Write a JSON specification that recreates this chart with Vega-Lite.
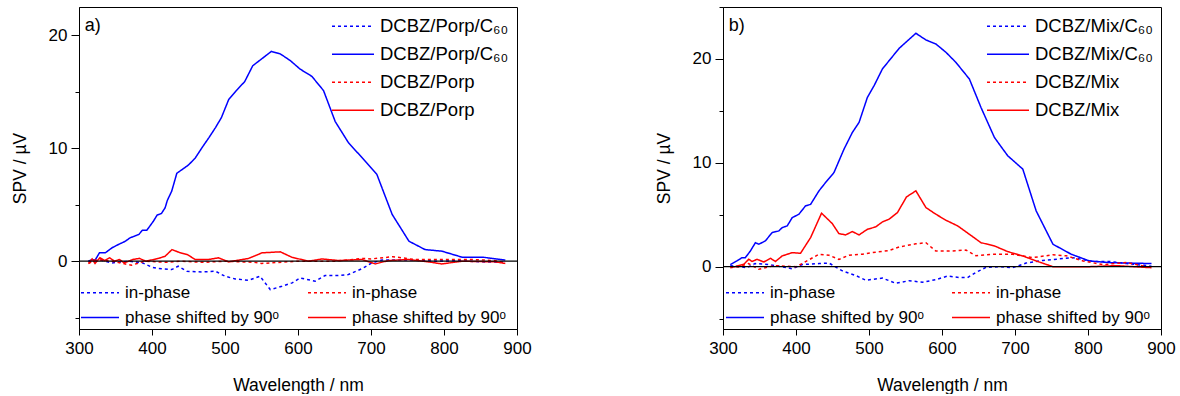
{
  "$schema": "https://vega.github.io/schema/vega-lite/v6.json",
  "padding": {"left": 10, "top": 6, "right": 0, "bottom": 0},
  "bounds": "flush",
  "spacing": 206,
  "config": {
    "font": "Liberation Sans",
    "view": {"stroke": "black", "strokeWidth": 1},
    "axis": {"domainColor": "black", "tickColor": "black", "labelColor": "black", "titleColor": "black", "labelFont": "Liberation Sans", "titleFont": "Liberation Sans", "titleFontSize": 17.5, "titleFontWeight": "normal", "grid": false, "domainWidth": 1, "tickWidth": 1},
    "legend": {"labelFont": "Liberation Sans", "labelColor": "black", "symbolStrokeWidth": 1.5, "symbolType": "stroke", "labelOffset": 5, "orient": "none", "labelLimit": 400, "padding": 0}
  },
  "hconcat": [
    {
      "width": 438,
      "height": 322,
      "data": {"values": [
        {"s":"C60-90","x":313,"y":0},{"s":"C60-90","x":317.8,"y":0.15},{"s":"C60-90","x":322,"y":0.09},{"s":"C60-90","x":328,"y":0.74},{"s":"C60-90","x":336,"y":0.74},{"s":"C60-90","x":345,"y":1.18},{"s":"C60-90","x":354,"y":1.48},{"s":"C60-90","x":363.5,"y":1.77},{"s":"C60-90","x":370,"y":2.07},{"s":"C60-90","x":382,"y":2.37},{"s":"C60-90","x":387,"y":2.75},{"s":"C60-90","x":393,"y":2.75},{"s":"C60-90","x":402,"y":3.55},{"s":"C60-90","x":407,"y":4.08},{"s":"C60-90","x":413,"y":4.23},{"s":"C60-90","x":418,"y":4.73},{"s":"C60-90","x":421,"y":5.38},{"s":"C60-90","x":427,"y":6.2},{"s":"C60-90","x":434,"y":7.78},{"s":"C60-90","x":450,"y":8.52},{"s":"C60-90","x":459,"y":9.11},{"s":"C60-90","x":468.5,"y":10.05},{"s":"C60-90","x":478,"y":10.94},{"s":"C60-90","x":487,"y":11.83},{"s":"C60-90","x":495,"y":12.7},{"s":"C60-90","x":505,"y":14.3},{"s":"C60-90","x":515.5,"y":15.1},{"s":"C60-90","x":527,"y":15.9},{"s":"C60-90","x":538,"y":17.3},{"s":"C60-90","x":563.5,"y":18.57},{"s":"C60-90","x":576,"y":18.34},{"s":"C60-90","x":589.5,"y":17.75},{"s":"C60-90","x":603,"y":17.0},{"s":"C60-90","x":619,"y":16.36},{"s":"C60-90","x":635,"y":15.1},{"s":"C60-90","x":651,"y":12.36},{"s":"C60-90","x":669,"y":10.5},{"s":"C60-90","x":690,"y":9.0},{"s":"C60-90","x":708,"y":7.69},{"s":"C60-90","x":722,"y":5.32},{"s":"C60-90","x":729,"y":4.14},{"s":"C60-90","x":752,"y":1.77},{"s":"C60-90","x":774,"y":1.03},{"s":"C60-90","x":797,"y":0.89},{"s":"C60-90","x":825,"y":0.35},{"s":"C60-90","x":854,"y":0.35},{"s":"C60-90","x":884,"y":0.1},
        {"s":"C60-in","x":313,"y":0},{"s":"C60-in","x":330,"y":0.1},{"s":"C60-in","x":345,"y":-0.15},{"s":"C60-in","x":368,"y":0},{"s":"C60-in","x":387,"y":-0.15},{"s":"C60-in","x":400,"y":-0.53},{"s":"C60-in","x":409,"y":-0.65},{"s":"C60-in","x":427,"y":-0.74},{"s":"C60-in","x":436,"y":-0.44},{"s":"C60-in","x":448,"y":-0.89},{"s":"C60-in","x":468.5,"y":-0.95},{"s":"C60-in","x":487,"y":-0.89},{"s":"C60-in","x":500,"y":-1.33},{"s":"C60-in","x":514,"y":-1.57},{"s":"C60-in","x":532.5,"y":-1.69},{"s":"C60-in","x":548,"y":-1.33},{"s":"C60-in","x":562,"y":-2.51},{"s":"C60-in","x":578,"y":-2.22},{"s":"C60-in","x":592,"y":-1.92},{"s":"C60-in","x":603,"y":-1.48},{"s":"C60-in","x":623.5,"y":-1.77},{"s":"C60-in","x":637,"y":-1.27},{"s":"C60-in","x":655,"y":-1.27},{"s":"C60-in","x":669,"y":-1.18},{"s":"C60-in","x":688,"y":-0.65},{"s":"C60-in","x":701,"y":-0.15},{"s":"C60-in","x":715,"y":0.1},{"s":"C60-in","x":733,"y":0.1},{"s":"C60-in","x":756,"y":0.1},{"s":"C60-in","x":790,"y":0},{"s":"C60-in","x":820,"y":0.05},{"s":"C60-in","x":850,"y":-0.05},{"s":"C60-in","x":884,"y":-0.1},
        {"s":"ref-90","x":313,"y":-0.2},{"s":"ref-90","x":318,"y":0.2},{"s":"ref-90","x":322,"y":-0.2},{"s":"ref-90","x":328.6,"y":0.3},{"s":"ref-90","x":335,"y":0.06},{"s":"ref-90","x":342,"y":0.3},{"s":"ref-90","x":348.6,"y":0},{"s":"ref-90","x":355.4,"y":0.15},{"s":"ref-90","x":362,"y":-0.15},{"s":"ref-90","x":373.6,"y":0.15},{"s":"ref-90","x":382.6,"y":0.25},{"s":"ref-90","x":391.7,"y":0},{"s":"ref-90","x":409,"y":0.25},{"s":"ref-90","x":418,"y":0.44},{"s":"ref-90","x":427.4,"y":1.03},{"s":"ref-90","x":438.8,"y":0.74},{"s":"ref-90","x":448,"y":0.6},{"s":"ref-90","x":459.3,"y":0.15},{"s":"ref-90","x":477.5,"y":0.15},{"s":"ref-90","x":491.2,"y":0.3},{"s":"ref-90","x":504.9,"y":-0.06},{"s":"ref-90","x":532.5,"y":0.25},{"s":"ref-90","x":550.7,"y":0.74},{"s":"ref-90","x":575.8,"y":0.83},{"s":"ref-90","x":591.6,"y":0.35},{"s":"ref-90","x":614.5,"y":0},{"s":"ref-90","x":632.8,"y":0.2},{"s":"ref-90","x":655.6,"y":0.06},{"s":"ref-90","x":687.6,"y":0.15},{"s":"ref-90","x":705.9,"y":-0.24},{"s":"ref-90","x":724,"y":0.06},{"s":"ref-90","x":751.6,"y":0.15},{"s":"ref-90","x":779,"y":-0.06},{"s":"ref-90","x":797,"y":-0.24},{"s":"ref-90","x":824.7,"y":0},{"s":"ref-90","x":870.4,"y":-0.06},{"s":"ref-90","x":884,"y":-0.2},
        {"s":"ref-in","x":313,"y":-0.2},{"s":"ref-in","x":322,"y":0.1},{"s":"ref-in","x":330,"y":0.1},{"s":"ref-in","x":345,"y":0},{"s":"ref-in","x":360,"y":-0.2},{"s":"ref-in","x":372,"y":-0.35},{"s":"ref-in","x":390,"y":0},{"s":"ref-in","x":420,"y":-0.1},{"s":"ref-in","x":440,"y":0},{"s":"ref-in","x":470,"y":-0.1},{"s":"ref-in","x":500,"y":0},{"s":"ref-in","x":540,"y":-0.1},{"s":"ref-in","x":550,"y":-0.2},{"s":"ref-in","x":600,"y":0},{"s":"ref-in","x":650,"y":0},{"s":"ref-in","x":690,"y":0.25},{"s":"ref-in","x":700,"y":0.2},{"s":"ref-in","x":730,"y":0.4},{"s":"ref-in","x":760,"y":0.15},{"s":"ref-in","x":800,"y":0.15},{"s":"ref-in","x":840,"y":0.15},{"s":"ref-in","x":870,"y":0.05},{"s":"ref-in","x":884,"y":-0.15}
      ]},
      "layer": [
        {
          "mark": {"type": "line", "strokeWidth": 1.5},
          "encoding": {
            "x": {"field": "x", "type": "quantitative", "title": "Wavelength / nm", "scale": {"domain": [300, 900], "nice": false, "zero": false},
              "axis": {"values": [300,350,400,450,500,550,600,650,700,750,800,850,900], "labelExpr": "datum.value % 100 === 0 ? datum.label : ''", "labelFontSize": {"condition": {"test": "datum.value % 100 === 0", "value": 17}, "value": 0}, "labelPadding": 5, "labelFlush": false, "labelOverlap": false, "tickSize": {"condition": {"test": "datum.value % 100 === 0", "value": 6}, "value": 3}, "titlePadding": 20}},
            "y": {"field": "y", "type": "quantitative", "title": "SPV / µV", "scale": {"domain": [-6, 22.5], "nice": false, "zero": false},
              "axis": {"values": [-5,0,5,10,15,20], "labelExpr": "datum.value % 10 === 0 ? datum.label : ''", "labelFontSize": {"condition": {"test": "datum.value % 10 === 0", "value": 17}, "value": 0}, "labelPadding": 4, "labelOverlap": false, "tickSize": {"condition": {"test": "datum.value % 10 === 0", "value": 8}, "value": 4}, "titlePadding": 19}},
            "color": {"field": "s", "type": "nominal", "scale": {"domain": ["C60-in","C60-90","ref-in","ref-90"], "range": ["#0000ff","#0000ff","#ff0000","#ff0000"]},
              "legend": {"title": null, "legendX": 252, "legendY": 6.5, "symbolSize": 1764, "clipHeight": 25.3, "rowPadding": 2, "labelFontSize": 18.5, "labelExpr": "datum.value === 'C60-in' || datum.value === 'C60-90' ? 'DCBZ/Porp/C₆₀' : 'DCBZ/Porp'"}},
            "strokeDash": {"field": "s", "type": "nominal", "scale": {"domain": ["C60-in","C60-90","ref-in","ref-90"], "range": [[3,3],[1,0],[3,3],[1,0]]},
              "legend": {"title": null, "legendX": 252, "legendY": 6.5, "symbolSize": 1764, "clipHeight": 25.3, "rowPadding": 2, "labelFontSize": 18.5, "labelExpr": "datum.value === 'C60-in' || datum.value === 'C60-90' ? 'DCBZ/Porp/C₆₀' : 'DCBZ/Porp'"}}
          }
        },
        {
          "mark": {"type": "line", "strokeWidth": 1.5, "opacity": 0},
          "encoding": {
            "x": {"field": "x", "type": "quantitative", "title": "Wavelength / nm"},
            "y": {"field": "y", "type": "quantitative", "title": "SPV / µV"},
            "color": {"field": "s", "type": "nominal", "scale": {"domain": ["C60-in","C60-90","ref-in","ref-90"], "range": ["#0000ff","#0000ff","#ff0000","#ff0000"]},
              "legend": {"title": null, "legendX": 1, "legendY": 274.2, "columns": 2, "columnPadding": 28, "clipHeight": 22.8, "rowPadding": 2, "symbolSize": 1444, "symbolOpacity": 1, "labelFontSize": 17, "labelExpr": "indexof(datum.value, '-in') >= 0 ? 'in-phase' : 'phase shifted by 90ᵒ'"}},
            "strokeDash": {"field": "s", "type": "nominal", "scale": {"domain": ["C60-in","C60-90","ref-in","ref-90"], "range": [[3,3],[1,0],[3,3],[1,0]]},
              "legend": {"title": null, "legendX": 1, "legendY": 274.2, "columns": 2, "columnPadding": 28, "clipHeight": 22.8, "rowPadding": 2, "symbolSize": 1444, "symbolOpacity": 1, "labelFontSize": 17, "labelExpr": "indexof(datum.value, '-in') >= 0 ? 'in-phase' : 'phase shifted by 90ᵒ'"}}
          }
        },
        {
          "data": {"values": [{}]},
          "mark": {"type": "rule", "color": "black", "strokeWidth": 1.3},
          "encoding": {"y": {"datum": 0, "type": "quantitative", "title": "SPV / µV"}}
        },
        {
          "data": {"values": [{"t": "a)"}]},
          "mark": {"type": "text", "align": "left", "baseline": "middle", "fontSize": 18, "font": "Liberation Sans", "color": "black"},
          "encoding": {"x": {"datum": 307.8, "type": "quantitative", "title": "Wavelength / nm"}, "y": {"datum": 20.85, "type": "quantitative", "title": "SPV / µV"}, "text": {"field": "t"}}
        }
      ],
      "resolve": {"scale": {"color": "independent", "strokeDash": "independent"}}
    },
    {
      "width": 438,
      "height": 322,
      "data": {"values": [
        {"s":"C60-90","x":310,"y":0.2},{"s":"C60-90","x":312.4,"y":0.29},{"s":"C60-90","x":319,"y":0.55},{"s":"C60-90","x":326,"y":0.87},{"s":"C60-90","x":330.6,"y":0.87},{"s":"C60-90","x":337.5,"y":1.51},{"s":"C60-90","x":344.4,"y":2.31},{"s":"C60-90","x":349,"y":2.16},{"s":"C60-90","x":358,"y":2.48},{"s":"C60-90","x":367.3,"y":3.28},{"s":"C60-90","x":376.5,"y":3.44},{"s":"C60-90","x":381,"y":3.76},{"s":"C60-90","x":388,"y":3.93},{"s":"C60-90","x":394.8,"y":4.72},{"s":"C60-90","x":404,"y":5.05},{"s":"C60-90","x":413,"y":5.85},{"s":"C60-90","x":420,"y":6.0},{"s":"C60-90","x":431.5,"y":7.3},{"s":"C60-90","x":440.5,"y":8.1},{"s":"C60-90","x":452,"y":9.06},{"s":"C60-90","x":465.8,"y":11.32},{"s":"C60-90","x":477.2,"y":12.92},{"s":"C60-90","x":486.4,"y":13.89},{"s":"C60-90","x":497.8,"y":16.3},{"s":"C60-90","x":507,"y":17.43},{"s":"C60-90","x":518.4,"y":19.04},{"s":"C60-90","x":541.3,"y":21.02},{"s":"C60-90","x":564.2,"y":22.47},{"s":"C60-90","x":578,"y":21.83},{"s":"C60-90","x":591.6,"y":21.44},{"s":"C60-90","x":605.4,"y":20.64},{"s":"C60-90","x":619,"y":19.67},{"s":"C60-90","x":637.5,"y":18.07},{"s":"C60-90","x":653.4,"y":15.33},{"s":"C60-90","x":671.8,"y":12.44},{"s":"C60-90","x":690,"y":10.68},{"s":"C60-90","x":710.7,"y":9.39},{"s":"C60-90","x":729,"y":5.37},{"s":"C60-90","x":752,"y":2.16},{"s":"C60-90","x":777,"y":1.2},{"s":"C60-90","x":802,"y":0.55},{"s":"C60-90","x":830,"y":0.39},{"s":"C60-90","x":887,"y":0.3},
        {"s":"C60-in","x":310,"y":0.1},{"s":"C60-in","x":322,"y":0},{"s":"C60-in","x":332.6,"y":-0.1},{"s":"C60-in","x":344,"y":0.3},{"s":"C60-in","x":362.7,"y":0.2},{"s":"C60-in","x":380,"y":0},{"s":"C60-in","x":394.8,"y":-0.2},{"s":"C60-in","x":408.5,"y":0.2},{"s":"C60-in","x":431.5,"y":0.3},{"s":"C60-in","x":445.2,"y":0.35},{"s":"C60-in","x":463.5,"y":-0.4},{"s":"C60-in","x":481.8,"y":-0.85},{"s":"C60-in","x":495.5,"y":-1.3},{"s":"C60-in","x":518.4,"y":-1.1},{"s":"C60-in","x":536.7,"y":-1.6},{"s":"C60-in","x":555,"y":-1.35},{"s":"C60-in","x":573.3,"y":-1.5},{"s":"C60-in","x":591.6,"y":-1.25},{"s":"C60-in","x":607.6,"y":-0.9},{"s":"C60-in","x":623.5,"y":-1.05},{"s":"C60-in","x":635,"y":-1.05},{"s":"C60-in","x":646.5,"y":-0.55},{"s":"C60-in","x":660.3,"y":-0.07},{"s":"C60-in","x":678.6,"y":0},{"s":"C60-in","x":696.9,"y":-0.1},{"s":"C60-in","x":715.2,"y":0.35},{"s":"C60-in","x":738,"y":0.6},{"s":"C60-in","x":761,"y":0.75},{"s":"C60-in","x":779.3,"y":0.87},{"s":"C60-in","x":806.8,"y":0.5},{"s":"C60-in","x":829.8,"y":0.5},{"s":"C60-in","x":852.7,"y":0.3},{"s":"C60-in","x":887,"y":0.05},
        {"s":"ref-90","x":310,"y":0},{"s":"ref-90","x":316.5,"y":0},{"s":"ref-90","x":328.4,"y":0.23},{"s":"ref-90","x":335.3,"y":0.71},{"s":"ref-90","x":339.8,"y":0.5},{"s":"ref-90","x":346.7,"y":0.71},{"s":"ref-90","x":355.9,"y":0.45},{"s":"ref-90","x":365,"y":0.81},{"s":"ref-90","x":371.8,"y":0.5},{"s":"ref-90","x":381,"y":1.03},{"s":"ref-90","x":394.8,"y":1.35},{"s":"ref-90","x":406.2,"y":1.29},{"s":"ref-90","x":420,"y":2.8},{"s":"ref-90","x":435,"y":5.15},{"s":"ref-90","x":449.7,"y":4.15},{"s":"ref-90","x":458.8,"y":3.18},{"s":"ref-90","x":468,"y":3.06},{"s":"ref-90","x":477.2,"y":3.38},{"s":"ref-90","x":486.4,"y":3.06},{"s":"ref-90","x":497.8,"y":3.6},{"s":"ref-90","x":509.2,"y":3.83},{"s":"ref-90","x":518.4,"y":4.31},{"s":"ref-90","x":527.5,"y":4.57},{"s":"ref-90","x":539,"y":5.21},{"s":"ref-90","x":551.4,"y":6.72},{"s":"ref-90","x":564.2,"y":7.3},{"s":"ref-90","x":578,"y":5.69},{"s":"ref-90","x":591.6,"y":5.05},{"s":"ref-90","x":605.4,"y":4.47},{"s":"ref-90","x":621.4,"y":3.93},{"s":"ref-90","x":637.5,"y":3.12},{"s":"ref-90","x":653.4,"y":2.31},{"s":"ref-90","x":671.8,"y":2.0},{"s":"ref-90","x":690,"y":1.45},{"s":"ref-90","x":710.7,"y":1.03},{"s":"ref-90","x":729,"y":0.55},{"s":"ref-90","x":752,"y":0},{"s":"ref-90","x":802,"y":0},{"s":"ref-90","x":839,"y":0.1},{"s":"ref-90","x":887,"y":-0.1},
        {"s":"ref-in","x":310,"y":-0.1},{"s":"ref-in","x":321,"y":0},{"s":"ref-in","x":335,"y":0.3},{"s":"ref-in","x":349,"y":-0.25},{"s":"ref-in","x":370,"y":0.1},{"s":"ref-in","x":400,"y":0},{"s":"ref-in","x":408.5,"y":0.3},{"s":"ref-in","x":431.5,"y":1.2},{"s":"ref-in","x":445.2,"y":1.1},{"s":"ref-in","x":458.8,"y":0.7},{"s":"ref-in","x":472.6,"y":1.1},{"s":"ref-in","x":490.9,"y":1.2},{"s":"ref-in","x":509.2,"y":1.4},{"s":"ref-in","x":527.5,"y":1.55},{"s":"ref-in","x":541.3,"y":1.9},{"s":"ref-in","x":564.2,"y":2.2},{"s":"ref-in","x":578,"y":2.3},{"s":"ref-in","x":591.6,"y":1.5},{"s":"ref-in","x":610,"y":1.5},{"s":"ref-in","x":632.8,"y":1.6},{"s":"ref-in","x":646.5,"y":1.05},{"s":"ref-in","x":669.4,"y":1.2},{"s":"ref-in","x":696.9,"y":1.2},{"s":"ref-in","x":724.4,"y":0.87},{"s":"ref-in","x":752,"y":1.15},{"s":"ref-in","x":770.3,"y":1.05},{"s":"ref-in","x":793.2,"y":0.55},{"s":"ref-in","x":820.7,"y":0.2},{"s":"ref-in","x":852.7,"y":0.4},{"s":"ref-in","x":887,"y":-0.1}
      ]},
      "layer": [
        {
          "mark": {"type": "line", "strokeWidth": 1.5},
          "encoding": {
            "x": {"field": "x", "type": "quantitative", "title": "Wavelength / nm", "scale": {"domain": [300, 900], "nice": false, "zero": false},
              "axis": {"values": [300,350,400,450,500,550,600,650,700,750,800,850,900], "labelExpr": "datum.value % 100 === 0 ? datum.label : ''", "labelFontSize": {"condition": {"test": "datum.value % 100 === 0", "value": 17}, "value": 0}, "labelPadding": 5, "labelFlush": false, "labelOverlap": false, "tickSize": {"condition": {"test": "datum.value % 100 === 0", "value": 6}, "value": 3}, "titlePadding": 20}},
            "y": {"field": "y", "type": "quantitative", "title": "SPV / µV", "scale": {"domain": [-6, 25], "nice": false, "zero": false},
              "axis": {"values": [-5,0,5,10,15,20,25], "labelExpr": "datum.value % 10 === 0 ? datum.label : ''", "labelFontSize": {"condition": {"test": "datum.value % 10 === 0", "value": 17}, "value": 0}, "labelPadding": 4, "labelOverlap": false, "tickSize": {"condition": {"test": "datum.value % 10 === 0", "value": 8}, "value": 4}, "titlePadding": 19}},
            "color": {"field": "s", "type": "nominal", "scale": {"domain": ["C60-in","C60-90","ref-in","ref-90"], "range": ["#0000ff","#0000ff","#ff0000","#ff0000"]},
              "legend": {"title": null, "legendX": 263, "legendY": 6.5, "symbolSize": 1764, "clipHeight": 25.3, "rowPadding": 2, "labelFontSize": 18.5, "labelExpr": "datum.value === 'C60-in' || datum.value === 'C60-90' ? 'DCBZ/Mix/C₆₀' : 'DCBZ/Mix'"}},
            "strokeDash": {"field": "s", "type": "nominal", "scale": {"domain": ["C60-in","C60-90","ref-in","ref-90"], "range": [[3,3],[1,0],[3,3],[1,0]]},
              "legend": {"title": null, "legendX": 263, "legendY": 6.5, "symbolSize": 1764, "clipHeight": 25.3, "rowPadding": 2, "labelFontSize": 18.5, "labelExpr": "datum.value === 'C60-in' || datum.value === 'C60-90' ? 'DCBZ/Mix/C₆₀' : 'DCBZ/Mix'"}}
          }
        },
        {
          "mark": {"type": "line", "strokeWidth": 1.5, "opacity": 0},
          "encoding": {
            "x": {"field": "x", "type": "quantitative", "title": "Wavelength / nm"},
            "y": {"field": "y", "type": "quantitative", "title": "SPV / µV"},
            "color": {"field": "s", "type": "nominal", "scale": {"domain": ["C60-in","C60-90","ref-in","ref-90"], "range": ["#0000ff","#0000ff","#ff0000","#ff0000"]},
              "legend": {"title": null, "legendX": 2, "legendY": 274.2, "columns": 2, "columnPadding": 27, "clipHeight": 22.8, "rowPadding": 2, "symbolSize": 1444, "symbolOpacity": 1, "labelFontSize": 17, "labelExpr": "indexof(datum.value, '-in') >= 0 ? 'in-phase' : 'phase shifted by 90ᵒ'"}},
            "strokeDash": {"field": "s", "type": "nominal", "scale": {"domain": ["C60-in","C60-90","ref-in","ref-90"], "range": [[3,3],[1,0],[3,3],[1,0]]},
              "legend": {"title": null, "legendX": 2, "legendY": 274.2, "columns": 2, "columnPadding": 27, "clipHeight": 22.8, "rowPadding": 2, "symbolSize": 1444, "symbolOpacity": 1, "labelFontSize": 17, "labelExpr": "indexof(datum.value, '-in') >= 0 ? 'in-phase' : 'phase shifted by 90ᵒ'"}}
          }
        },
        {
          "data": {"values": [{}]},
          "mark": {"type": "rule", "color": "black", "strokeWidth": 1.3},
          "encoding": {"y": {"datum": 0, "type": "quantitative", "title": "SPV / µV"}}
        },
        {
          "data": {"values": [{"t": "b)"}]},
          "mark": {"type": "text", "align": "left", "baseline": "middle", "fontSize": 18, "font": "Liberation Sans", "color": "black"},
          "encoding": {"x": {"datum": 307.8, "type": "quantitative", "title": "Wavelength / nm"}, "y": {"datum": 23.2, "type": "quantitative", "title": "SPV / µV"}, "text": {"field": "t"}}
        }
      ],
      "resolve": {"scale": {"color": "independent", "strokeDash": "independent"}}
    }
  ]
}
